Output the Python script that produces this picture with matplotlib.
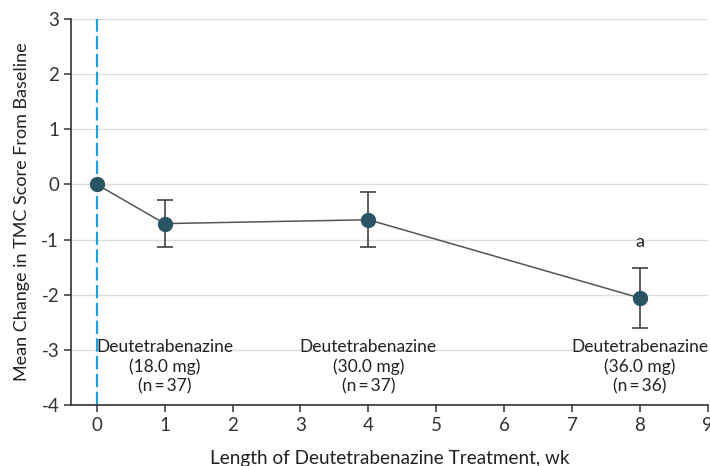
import matplotlib
matplotlib.use("Agg")
import matplotlib.pyplot as plt
import numpy as np

weeks = [0, 1, 4, 8]
mean_change = [0.0, -0.71, -0.64, -2.06]
ci_upper = [0.0, -0.29, -0.14, -1.52]
ci_lower = [0.0, -1.13, -1.13, -2.61]
dose_labels = ["Deutetrabenazine\n(18.0 mg)\n(n\u2009=\u200937)",
               "Deutetrabenazine\n(30.0 mg)\n(n\u2009=\u200937)",
               "Deutetrabenazine\n(36.0 mg)\n(n\u2009=\u200936)"]
dose_weeks = [1, 4, 8]

plt.rcParams['font.family'] = ['Lato', 'DejaVu Sans']
plt.rcParams['axes.unicode_minus'] = False

fig = plt.figure(figsize=(7.1, 4.66), dpi=100)
ax = fig.add_axes([0.1, 0.131, 0.897, 0.828])

ax.set_xlim(-0.38, 9)
ax.set_ylim(-4, 3)
ax.set_yticks(range(-4, 4))
ax.set_xticks(range(0, 10))
ax.grid(axis='y', color='#dddddd', linewidth=1)
ax.set_axisbelow(True)

for s in ['top', 'right']:
    ax.spines[s].set_visible(False)
for s in ['left', 'bottom']:
    ax.spines[s].set_color('#333333')
    ax.spines[s].set_linewidth(1.2)

ax.axvline(0, color='#1aa3e0', linestyle=(0, (6, 2)), linewidth=1.6, zorder=1)

m = np.array(mean_change)
yerr = np.array([m - np.array(ci_lower), np.array(ci_upper) - m])
ax.errorbar(weeks[1:], m[1:], yerr=yerr[:, 1:], fmt='none', ecolor='#333333',
            elinewidth=1.1, capsize=6, capthick=1.1, zorder=2)
ax.plot(weeks, m, color='#555555', linewidth=1.1, zorder=3)
ax.plot(weeks, m, 'o', color='#2a5565', markersize=10, zorder=4)

for xw, lab in zip(dose_weeks, dose_labels):
    ax.text(xw, -2.8, lab, ha='center', va='top', fontsize=12.5, color='#222222', linespacing=1.25)

ax.text(8, -1.05, 'a', ha='center', va='center', fontsize=13, color='#222222')

ax.tick_params(axis='both', labelsize=13.5, colors='#333333', length=5, width=1.1)
ax.set_ylabel('Mean Change in TMC Score From Baseline', fontsize=13, color='#222222', labelpad=8)
ax.set_xlabel('Length of Deutetrabenazine Treatment, wk', fontsize=13.6, color='#222222', labelpad=12)

fig.savefig('out.png', dpi=100)
